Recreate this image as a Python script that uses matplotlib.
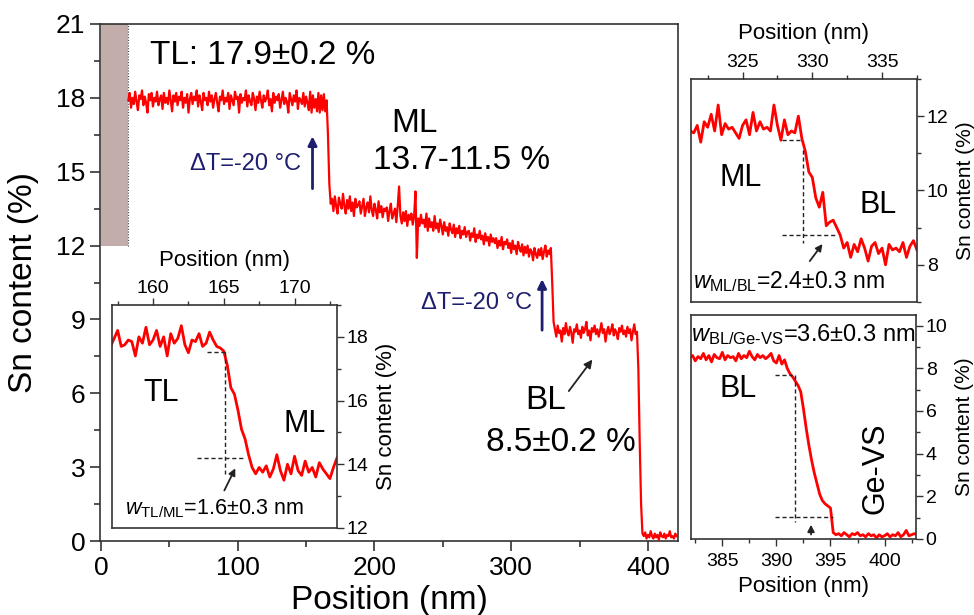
import numpy as np
import matplotlib.pyplot as plt
from matplotlib.patches import Rectangle
from matplotlib.ticker import MultipleLocator

plt.rcParams['font.family'] = ['Liberation Sans', 'DejaVu Sans']
plt.rcParams['mathtext.fontset'] = 'custom'
plt.rcParams['mathtext.rm'] = 'Liberation Sans'
plt.rcParams['mathtext.it'] = 'Liberation Sans:italic'

# ---- main profile, 1 nm steps starting at 20 nm ----
main_start = 20
tl_sn = [
    17.9, 18.2, 17.6, 18.0, 17.75, 18.25, 17.85, 17.5, 18.1, 17.95,
    18.3, 17.7, 18.05, 17.8, 17.4, 18.15, 17.9, 18.2, 17.65, 18.0,
    17.85, 18.25, 17.7, 17.95, 18.1, 17.55, 18.2, 17.8, 18.0, 17.75,
    18.3, 17.9, 17.45, 18.1, 17.85, 18.2, 17.7, 18.05, 17.9, 18.25,
    17.6, 18.0, 17.8, 18.15, 17.4, 17.95, 18.2, 17.75, 18.05, 17.9,
    18.3, 17.65, 18.1, 17.85, 17.5, 18.2, 17.9, 18.0, 17.7, 18.25,
    17.85, 18.1, 17.6, 17.95, 18.2, 17.8, 17.45, 18.05, 17.9, 18.3,
    17.75, 18.0, 17.85, 18.2, 17.55, 18.1, 17.9, 17.7, 18.25, 17.95,
    18.05, 17.4, 18.15, 17.8, 18.0, 17.9, 18.3, 17.65, 18.1, 17.85,
    17.7, 18.2, 17.95, 17.5, 18.05, 17.8, 18.25, 17.9, 17.6, 18.1,
    17.85, 18.0, 18.3, 17.7, 17.95, 17.45, 18.2, 17.8, 18.05, 17.9,
    18.15, 17.6, 17.9, 18.25, 17.75, 18.0, 17.85, 17.4, 18.2, 17.95,
    17.7, 18.1, 17.85, 18.3, 17.55, 18.0, 17.9, 17.75, 18.2, 17.65,
    18.05, 17.8, 17.5, 18.25, 17.4, 18.1, 17.6, 17.95, 17.45, 18.2,
    17.4, 18.1, 17.5, 18.15, 17.45, 17.9]
tl_ml_step = [16.5, 14.5, 13.7]
ml_sn = [
    13.9, 13.4, 14.0, 13.6, 13.3, 13.95, 13.7, 13.5, 14.1, 13.6,
    13.3, 13.85, 13.5, 14.0, 13.4, 13.75, 13.2, 13.9, 13.55, 13.65,
    13.8, 13.3, 13.6, 13.9, 13.2, 13.55, 13.75, 13.35, 14.0, 13.45,
    13.2, 13.7, 13.45, 13.1, 13.8, 13.35, 13.6, 13.15, 13.5, 13.4,
    13.55, 13.0, 13.4, 13.7, 13.1, 13.3, 13.5, 12.95, 13.6, 14.4,
    13.2, 12.9, 13.35, 13.0, 13.4, 12.8, 13.25, 13.05, 13.3, 12.85,
    13.2, 14.2, 11.5, 13.1, 12.8, 13.25, 12.9, 13.05, 12.75, 13.3,
    12.6, 13.1, 12.75, 12.95, 12.6, 13.2, 12.7, 12.9, 12.55, 13.05,
    12.8, 12.45, 12.95, 12.6, 12.75, 12.4, 12.9, 12.65, 12.5, 12.85,
    12.35, 12.7, 12.5, 12.8, 12.3, 12.6, 12.45, 12.75, 12.35, 12.55,
    12.6, 12.2, 12.5, 12.35, 12.7, 12.15, 12.45, 12.3, 12.6, 12.25,
    12.4, 12.05, 12.5, 12.2, 12.35, 12.0, 12.45, 12.15, 12.3, 12.1,
    12.3, 11.9, 12.2, 12.0, 12.35, 11.85, 12.15, 12.05, 12.25, 11.9,
    12.1, 11.7, 12.2, 11.85, 12.0, 11.65, 12.15, 11.9, 11.75, 12.05,
    11.6, 11.95, 11.7, 12.0, 11.55, 11.85, 11.75, 11.4, 11.9, 11.65,
    11.5, 11.85, 11.6, 11.9, 11.45, 11.75, 12.0, 11.55, 11.8, 11.65,
    11.9]
ml_bl_step = [10.5, 8.9]
bl_sn = [
    8.6, 8.3, 8.75, 8.45, 8.55, 8.1, 8.65, 8.4, 8.85, 8.5,
    8.35, 8.7, 8.45, 8.05, 8.6, 8.5, 8.8, 8.4, 8.55, 8.25,
    8.7, 8.45, 8.6, 8.9, 8.35, 8.55, 8.15, 8.65, 8.5, 8.75,
    8.4, 8.6, 8.3, 8.55, 8.85, 8.45, 8.6, 8.1, 8.5, 8.7,
    8.4, 8.55, 8.8, 8.35, 8.6, 8.45, 8.2, 8.65, 8.5, 8.75,
    8.4, 8.55, 8.3, 8.7, 8.45, 8.6, 8.15, 8.5, 8.8, 8.4, 8.5]
bl_ge_step = [7.0, 4.0, 1.5, 0.3]
ge_sn = [0.2, 0.35, 0.1, 0.25, 0.15, 0.4, 0.2, 0.1, 0.3, 0.15, 0.25, 0.05, 0.35,
         0.2, 0.15, 0.3, 0.1, 0.25, 0.2, 0.4, 0.15, 0.2, 0.1, 0.3, 0.2]

# ---- zoomed interfaces, 0.25 nm steps ----
tl_ml_start = 157.0
tl_ml_sn = [
    17.7, 17.95, 18.2, 17.7, 17.75, 17.9, 17.85, 17.4, 18.0, 17.8, 18.3, 17.75,
    17.9, 18.2, 17.7, 18.0, 17.4, 18.1, 17.8, 17.95, 18.35, 17.75, 17.5, 17.9,
    17.85, 18.1, 17.7, 17.8, 18.15, 17.9, 17.7, 17.65,
    17.55, 17.1, 16.4, 16.2, 15.7, 15.1, 14.8, 14.3, 13.9, 13.7,
    13.9, 13.75, 13.95, 13.6, 13.85, 14.3, 13.8, 13.5, 14.0, 13.7, 14.25, 13.8,
    13.65, 14.1, 13.75, 13.9, 13.6, 14.05, 13.85, 13.7, 13.55, 13.9, 14.2]

ml_bl_start = 321.25
ml_bl_sn = [
    11.6, 11.55, 11.75, 11.3, 11.85, 11.7, 12.05, 11.6, 12.3, 11.5, 11.8, 11.65,
    11.7, 11.55, 11.4, 11.75, 11.9, 11.5, 12.1, 11.6, 11.85, 11.65, 11.7, 11.6,
    12.3, 11.75, 11.35, 11.9, 11.5, 11.6, 11.55,
    12.0, 11.4, 11.05, 10.5, 10.35, 9.8, 9.55, 9.95, 9.05, 9.15, 9.2, 9.0, 8.8, 8.45,
    8.6, 8.2, 8.55, 8.35, 8.7, 8.45, 8.1, 8.5, 8.6, 8.3, 8.45, 8.0, 8.55, 8.4,
    8.45, 8.35, 8.6, 8.2, 8.5, 8.65, 8.4]

bl_ge_start = 382.0
bl_ge_sn = [
    8.5, 8.6, 8.35, 8.55, 8.45, 8.7, 8.4, 8.6, 8.3, 8.65, 8.5, 8.45, 8.75, 8.4,
    8.6, 8.5, 8.55, 8.35, 8.7, 8.45, 8.6, 8.5, 8.8, 8.55, 8.4, 8.65, 8.5, 8.6,
    8.45, 8.55, 8.7, 8.35, 8.25, 8.6, 8.2, 8.4,
    8.0, 7.75, 7.6, 7.4, 7.2, 6.9, 6.1, 5.2, 4.4, 3.7, 3.1, 2.6, 2.1, 1.8, 1.65,
    1.55, 1.45, 0.3,
    0.2, 0.25, 0.15, 0.3, 0.2, 0.1, 0.25, 0.2, 0.3, 0.15, 0.2, 0.1, 0.25, 0.15,
    0.2, 0.05, 0.2, 0.1, 0.15, 0.25, 0.1, 0.2, 0.15, 0.3, 0.1, 0.2, 0.4, 0.15,
    0.2, 0.25, 0.2]

red = '#ff0000'
navy = '#1e1e6e'
spine_col = '#333333'

main_sn = np.array(tl_sn + tl_ml_step + ml_sn + ml_bl_step + bl_sn + bl_ge_step + ge_sn)
main_pos = main_start + np.arange(len(main_sn))

fig = plt.figure(figsize=(9.74, 6.15), dpi=100)

# ---------------- main panel ----------------
ax = fig.add_axes([0.1027, 0.1203, 0.5934, 0.8407])
ax.add_patch(Rectangle((0, 12), main_start, 9, facecolor='#c2adab', edgecolor='none', zorder=1))
ax.plot([main_start, main_start], [12, 21], color='#444444', lw=0.8, ls=(0, (1, 1.5)), zorder=2)
ax.plot(main_pos, main_sn, color=red, lw=1.6, zorder=3)
ax.set_xlim(-0.7, 422)
ax.set_ylim(0, 21)
ax.xaxis.set_major_locator(MultipleLocator(100))
ax.xaxis.set_minor_locator(MultipleLocator(50))
ax.yaxis.set_major_locator(MultipleLocator(3))
ax.yaxis.set_minor_locator(MultipleLocator(1.5))
ax.tick_params(which='both', direction='out', top=False, right=False, labelsize=19,
               color=spine_col, width=1.2)
ax.tick_params(which='major', length=7)
ax.tick_params(which='minor', length=4)
for s in ax.spines.values():
    s.set_color(spine_col)
    s.set_linewidth(1.2)
ax.set_xlabel('Position (nm)', fontsize=24, labelpad=4)
ax.set_ylabel('Sn content (%)', fontsize=24, labelpad=12)

ax.text(36, 19.7, 'TL: 17.9±0.2 %', fontsize=24, va='center', ha='left')
ax.text(229, 16.95, 'ML', fontsize=24, ha='center', va='center')
ax.text(263.5, 15.45, '13.7-11.5 %', fontsize=24, ha='center', va='center')
ax.text(325.5, 5.72, 'BL', fontsize=24, ha='center', va='center')
ax.text(336.5, 4.0, '8.5±0.2 %', fontsize=24, ha='center', va='center')
ax.annotate('', xy=(360.6, 7.46), xytext=(340.9, 6.0),
            arrowprops=dict(arrowstyle='-|>', color='#222222', lw=1.3, mutation_scale=12))

ax.text(146.5, 15.32, 'ΔT=-20 °C', fontsize=17, color=navy, ha='right', va='center')
ax.annotate('', xy=(154.7, 16.55), xytext=(154.7, 14.2),
            arrowprops=dict(arrowstyle='-|>', color=navy, lw=2, mutation_scale=13))
ax.text(315.3, 9.65, 'ΔT=-20 °C', fontsize=17, color=navy, ha='right', va='center')
ax.annotate('', xy=(322.6, 10.75), xytext=(322.6, 8.45),
            arrowprops=dict(arrowstyle='-|>', color=navy, lw=2, mutation_scale=13))


def style_inset(a, xside, xpad, xlab_y, ylab_x, ylab_size):
    a.tick_params(which='both', direction='out', left=False, labelleft=False,
                  right=True, labelright=True,
                  bottom=(xside == 'bottom'), labelbottom=(xside == 'bottom'),
                  top=(xside == 'top'), labeltop=(xside == 'top'),
                  labelsize=14, color=spine_col, width=1, pad=2)
    a.tick_params(axis='x', which='both', pad=xpad)
    a.tick_params(which='major', length=5)
    a.tick_params(which='minor', length=3)
    a.xaxis.set_label_position(xside)
    a.yaxis.set_label_position('right')
    for s in a.spines.values():
        s.set_color(spine_col)
        s.set_linewidth(1.2)
    a.set_xlabel('Position (nm)', fontsize=16)
    a.set_ylabel('Sn content (%)', fontsize=ylab_size)
    a.xaxis.set_label_coords(0.5, xlab_y)
    a.yaxis.set_label_coords(ylab_x, 0.5)
    a.xaxis.label.set_va('center')
    a.yaxis.label.set_va('center')


dash = dict(color='#222222', lw=1, ls=(0, (3, 2)))
arrow_k = dict(arrowstyle='-|>', color='#222222', lw=1.3, mutation_scale=10)

# ---------------- inset TL/ML ----------------
a1 = fig.add_axes([0.115, 0.1415, 0.231, 0.3626])
pos1 = tl_ml_start + 0.25 * np.arange(len(tl_ml_sn))
a1.plot(pos1, tl_ml_sn, color=red, lw=2)
a1.set_xlim(157.1, 173.0)
a1.set_ylim(12, 19)
a1.xaxis.set_major_locator(MultipleLocator(5))
a1.xaxis.set_minor_locator(MultipleLocator(2.5))
a1.yaxis.set_major_locator(MultipleLocator(2))
a1.yaxis.set_minor_locator(MultipleLocator(1))
style_inset(a1, 'top', 1, 1.2, 1.22, 16)
a1.plot([163.8, 165.3], [17.52, 17.52], **dash)
a1.plot([165.07, 165.07], [17.52, 13.7], **dash)
a1.plot([163.1, 166.5], [14.2, 14.2], **dash)
a1.annotate('', xy=(165.9, 13.95), xytext=(164.95, 13.1), arrowprops=arrow_k)
a1.text(160.6, 16.25, 'TL', fontsize=22, ha='center', va='center')
a1.text(170.7, 15.25, 'ML', fontsize=22, ha='center', va='center')
a1.text(158.0, 12.6, r'$w_{\mathrm{TL/ML}}$=1.6±0.3 nm', fontsize=15.5, ha='left', va='center')

# ---------------- inset ML/BL ----------------
a2 = fig.add_axes([0.7094, 0.509, 0.232, 0.3626])
pos2 = ml_bl_start + 0.25 * np.arange(len(ml_bl_sn))
a2.plot(pos2, ml_bl_sn, color=red, lw=2)
a2.set_xlim(321.3, 337.5)
a2.set_ylim(7, 13)
a2.xaxis.set_major_locator(MultipleLocator(5))
a2.xaxis.set_minor_locator(MultipleLocator(2.5))
a2.yaxis.set_major_locator(MultipleLocator(2))
a2.yaxis.set_minor_locator(MultipleLocator(1))
style_inset(a2, 'top', 1, 1.205, 1.215, 15)
a2.plot([327.8, 329.1], [11.35, 11.35], **dash)
a2.plot([329.3, 329.3], [11.1, 8.58], **dash)
a2.plot([327.8, 331.6], [8.8, 8.8], **dash)
a2.annotate('', xy=(330.85, 8.62), xytext=(329.7, 8.04), arrowprops=arrow_k)
a2.text(324.9, 10.33, 'ML', fontsize=22, ha='center', va='center')
a2.text(334.7, 9.6, 'BL', fontsize=22, ha='center', va='center')
a2.text(321.45, 7.55, r'$w_{\mathrm{ML/BL}}$=2.4±0.3 nm', fontsize=16.5, ha='left', va='center')

# ---------------- inset BL/Ge-VS ----------------
a3 = fig.add_axes([0.7094, 0.1236, 0.231, 0.3642])
pos3 = bl_ge_start + 0.25 * np.arange(len(bl_ge_sn))
a3.plot(pos3, bl_ge_sn, color=red, lw=2)
a3.set_xlim(382.1, 402.9)
a3.set_ylim(0, 10.5)
a3.xaxis.set_major_locator(MultipleLocator(5))
a3.xaxis.set_minor_locator(MultipleLocator(2.5))
a3.yaxis.set_major_locator(MultipleLocator(2))
a3.yaxis.set_minor_locator(MultipleLocator(1))
style_inset(a3, 'bottom', 5, -0.214, 1.215, 15)
a3.plot([389.9, 391.4], [7.67, 7.67], **dash)
a3.plot([391.7, 391.7], [7.67, 0.78], **dash)
a3.plot([389.9, 395.2], [1.04, 1.04], **dash)
a3.annotate('', xy=(393.2, 0.8), xytext=(393.2, 0.08), arrowprops=arrow_k)
a3.text(386.5, 7.05, 'BL', fontsize=22, ha='center', va='center')
a3.text(399.2, 3.3, 'Ge-VS', fontsize=22, ha='center', va='center', rotation=90)
a3.text(382.15, 9.6, r'$w_{\mathrm{BL/Ge\text{-}VS}}$=3.6±0.3 nm', fontsize=17, ha='left', va='center')

fig.savefig('out.png', dpi=100)
